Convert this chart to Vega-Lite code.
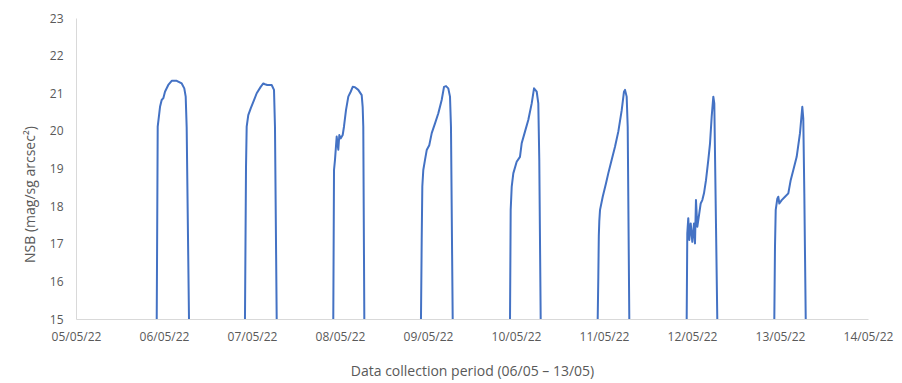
{
  "$schema": "https://vega.github.io/schema/vega-lite/v6.json",
  "width": 792,
  "height": 301,
  "autosize": {"type": "none"},
  "padding": {"left": 76, "top": 18, "right": 34, "bottom": 64},
  "background": "white",
  "config": {"view": {"stroke": null}, "font": "Open Sans"},
  "data": {"values": [
    {"n":1,"t":"2022-05-05T22:01","v":15},
    {"n":1,"t":"2022-05-05T22:17","v":20.11},
    {"n":1,"t":"2022-05-05T22:55","v":20.64},
    {"n":1,"t":"2022-05-05T23:22","v":20.82},
    {"n":1,"t":"2022-05-05T23:49","v":20.87},
    {"n":1,"t":"2022-05-06T00:16","v":21.04},
    {"n":1,"t":"2022-05-06T01:10","v":21.22},
    {"n":1,"t":"2022-05-06T02:06","v":21.33},
    {"n":1,"t":"2022-05-06T03:28","v":21.33},
    {"n":1,"t":"2022-05-06T04:50","v":21.26},
    {"n":1,"t":"2022-05-06T05:32","v":21.13},
    {"n":1,"t":"2022-05-06T05:55","v":20.91},
    {"n":1,"t":"2022-05-06T06:11","v":20.1},
    {"n":1,"t":"2022-05-06T06:49","v":15},
    {"n":2,"t":"2022-05-06T22:05","v":15},
    {"n":2,"t":"2022-05-06T22:22","v":19.05},
    {"n":2,"t":"2022-05-06T22:33","v":20.11},
    {"n":2,"t":"2022-05-06T22:59","v":20.42},
    {"n":2,"t":"2022-05-06T23:39","v":20.6},
    {"n":2,"t":"2022-05-07T00:33","v":20.82},
    {"n":2,"t":"2022-05-07T01:17","v":21.0},
    {"n":2,"t":"2022-05-07T02:22","v":21.17},
    {"n":2,"t":"2022-05-07T03:05","v":21.26},
    {"n":2,"t":"2022-05-07T03:33","v":21.24},
    {"n":2,"t":"2022-05-07T04:10","v":21.22},
    {"n":2,"t":"2022-05-07T05:22","v":21.22},
    {"n":2,"t":"2022-05-07T06:00","v":21.09},
    {"n":2,"t":"2022-05-07T06:16","v":20.11},
    {"n":2,"t":"2022-05-07T06:44","v":15},
    {"n":3,"t":"2022-05-07T22:10","v":15},
    {"n":3,"t":"2022-05-07T22:22","v":18.96},
    {"n":3,"t":"2022-05-07T22:38","v":19.23},
    {"n":3,"t":"2022-05-07T23:06","v":19.85},
    {"n":3,"t":"2022-05-07T23:32","v":19.5},
    {"n":3,"t":"2022-05-07T23:49","v":19.89},
    {"n":3,"t":"2022-05-08T00:11","v":19.8},
    {"n":3,"t":"2022-05-08T00:44","v":19.89},
    {"n":3,"t":"2022-05-08T01:05","v":20.11},
    {"n":3,"t":"2022-05-08T01:38","v":20.55},
    {"n":3,"t":"2022-05-08T02:16","v":20.91},
    {"n":3,"t":"2022-05-08T02:55","v":21.04},
    {"n":3,"t":"2022-05-08T03:28","v":21.17},
    {"n":3,"t":"2022-05-08T04:05","v":21.16},
    {"n":3,"t":"2022-05-08T04:59","v":21.09},
    {"n":3,"t":"2022-05-08T05:55","v":20.95},
    {"n":3,"t":"2022-05-08T06:11","v":20.64},
    {"n":3,"t":"2022-05-08T06:21","v":20.11},
    {"n":3,"t":"2022-05-08T06:38","v":15},
    {"n":4,"t":"2022-05-08T22:05","v":15},
    {"n":4,"t":"2022-05-08T22:17","v":17.1},
    {"n":4,"t":"2022-05-08T22:27","v":18.52},
    {"n":4,"t":"2022-05-08T22:43","v":18.96},
    {"n":4,"t":"2022-05-08T23:11","v":19.23},
    {"n":4,"t":"2022-05-08T23:39","v":19.49},
    {"n":4,"t":"2022-05-09T00:21","v":19.62},
    {"n":4,"t":"2022-05-09T01:01","v":19.94},
    {"n":4,"t":"2022-05-09T01:55","v":20.2},
    {"n":4,"t":"2022-05-09T02:49","v":20.47},
    {"n":4,"t":"2022-05-09T03:44","v":20.82},
    {"n":4,"t":"2022-05-09T04:22","v":21.17},
    {"n":4,"t":"2022-05-09T04:55","v":21.19},
    {"n":4,"t":"2022-05-09T05:32","v":21.13},
    {"n":4,"t":"2022-05-09T06:00","v":20.91},
    {"n":4,"t":"2022-05-09T06:16","v":20.11},
    {"n":4,"t":"2022-05-09T06:44","v":15},
    {"n":5,"t":"2022-05-09T22:22","v":15},
    {"n":5,"t":"2022-05-09T22:33","v":17.9},
    {"n":5,"t":"2022-05-09T22:50","v":18.52},
    {"n":5,"t":"2022-05-09T23:16","v":18.87},
    {"n":5,"t":"2022-05-10T00:11","v":19.18},
    {"n":5,"t":"2022-05-10T01:05","v":19.31},
    {"n":5,"t":"2022-05-10T01:33","v":19.67},
    {"n":5,"t":"2022-05-10T02:27","v":19.98},
    {"n":5,"t":"2022-05-10T03:21","v":20.29},
    {"n":5,"t":"2022-05-10T04:17","v":20.73},
    {"n":5,"t":"2022-05-10T04:55","v":21.13},
    {"n":5,"t":"2022-05-10T05:39","v":21.04},
    {"n":5,"t":"2022-05-10T06:05","v":20.73},
    {"n":5,"t":"2022-05-10T06:21","v":19.23},
    {"n":5,"t":"2022-05-10T06:44","v":15},
    {"n":6,"t":"2022-05-10T22:17","v":15},
    {"n":6,"t":"2022-05-10T22:27","v":16.12},
    {"n":6,"t":"2022-05-10T22:35","v":17.2},
    {"n":6,"t":"2022-05-10T22:43","v":17.6},
    {"n":6,"t":"2022-05-10T22:55","v":17.9},
    {"n":6,"t":"2022-05-10T23:39","v":18.25},
    {"n":6,"t":"2022-05-11T00:33","v":18.61},
    {"n":6,"t":"2022-05-11T01:10","v":18.87},
    {"n":6,"t":"2022-05-11T02:06","v":19.23},
    {"n":6,"t":"2022-05-11T03:00","v":19.58},
    {"n":6,"t":"2022-05-11T03:54","v":19.98},
    {"n":6,"t":"2022-05-11T04:50","v":20.55},
    {"n":6,"t":"2022-05-11T05:27","v":21.04},
    {"n":6,"t":"2022-05-11T05:44","v":21.09},
    {"n":6,"t":"2022-05-11T06:11","v":20.91},
    {"n":6,"t":"2022-05-11T06:28","v":20.11},
    {"n":6,"t":"2022-05-11T06:54","v":15},
    {"n":7,"t":"2022-05-11T22:33","v":15},
    {"n":7,"t":"2022-05-11T22:43","v":17.28},
    {"n":7,"t":"2022-05-11T22:59","v":17.68},
    {"n":7,"t":"2022-05-11T23:16","v":17.1},
    {"n":7,"t":"2022-05-11T23:39","v":17.54},
    {"n":7,"t":"2022-05-12T00:05","v":17.05},
    {"n":7,"t":"2022-05-12T00:33","v":17.54},
    {"n":7,"t":"2022-05-12T00:49","v":17.01},
    {"n":7,"t":"2022-05-12T01:05","v":18.16},
    {"n":7,"t":"2022-05-12T01:27","v":17.45},
    {"n":7,"t":"2022-05-12T01:59","v":17.81},
    {"n":7,"t":"2022-05-12T02:22","v":18.07},
    {"n":7,"t":"2022-05-12T02:49","v":18.16},
    {"n":7,"t":"2022-05-12T03:16","v":18.34},
    {"n":7,"t":"2022-05-12T03:49","v":18.69},
    {"n":7,"t":"2022-05-12T04:27","v":19.23},
    {"n":7,"t":"2022-05-12T04:55","v":19.67},
    {"n":7,"t":"2022-05-12T05:22","v":20.38},
    {"n":7,"t":"2022-05-12T05:49","v":20.91},
    {"n":7,"t":"2022-05-12T06:05","v":20.73},
    {"n":7,"t":"2022-05-12T06:33","v":17.45},
    {"n":7,"t":"2022-05-12T06:54","v":15},
    {"n":8,"t":"2022-05-12T22:27","v":15},
    {"n":8,"t":"2022-05-12T22:38","v":16.92},
    {"n":8,"t":"2022-05-12T22:50","v":17.9},
    {"n":8,"t":"2022-05-12T23:16","v":18.2},
    {"n":8,"t":"2022-05-12T23:32","v":18.25},
    {"n":8,"t":"2022-05-12T23:49","v":18.07},
    {"n":8,"t":"2022-05-13T00:28","v":18.16},
    {"n":8,"t":"2022-05-13T01:22","v":18.25},
    {"n":8,"t":"2022-05-13T02:16","v":18.34},
    {"n":8,"t":"2022-05-13T02:55","v":18.69},
    {"n":8,"t":"2022-05-13T03:38","v":18.96},
    {"n":8,"t":"2022-05-13T04:33","v":19.31},
    {"n":8,"t":"2022-05-13T05:27","v":19.94},
    {"n":8,"t":"2022-05-13T06:05","v":20.64},
    {"n":8,"t":"2022-05-13T06:21","v":20.33},
    {"n":8,"t":"2022-05-13T06:38","v":18.34},
    {"n":8,"t":"2022-05-13T07:01","v":15}
  ]},
  "mark": {"type": "line", "color": "#4472C4", "strokeWidth": 2, "strokeJoin": "round", "strokeCap": "butt"},
  "encoding": {
    "detail": {"field": "n", "type": "nominal"},
    "x": {
      "field": "t",
      "type": "temporal",
      "scale": {"domain": [{"year": 2022, "month": 5, "date": 5}, {"year": 2022, "month": 5, "date": 14}]},
      "axis": {
        "title": "Data collection period (06/05 – 13/05)",
        "format": "%d/%m/%y",
        "values": [
          {"year": 2022, "month": 5, "date": 5},
          {"year": 2022, "month": 5, "date": 6},
          {"year": 2022, "month": 5, "date": 7},
          {"year": 2022, "month": 5, "date": 8},
          {"year": 2022, "month": 5, "date": 9},
          {"year": 2022, "month": 5, "date": 10},
          {"year": 2022, "month": 5, "date": 11},
          {"year": 2022, "month": 5, "date": 12},
          {"year": 2022, "month": 5, "date": 13},
          {"year": 2022, "month": 5, "date": 14}
        ],
        "grid": false,
        "ticks": false,
        "domainColor": "#d9d9d9",
        "domainWidth": 1,
        "labelColor": "#595959",
        "labelFontSize": 12,
        "labelPadding": 12,
        "labelFlush": false,
        "labelOverlap": false,
        "titleColor": "#595959",
        "titleFontSize": 14,
        "titleFontWeight": "normal",
        "titlePadding": 22
      }
    },
    "y": {
      "field": "v",
      "type": "quantitative",
      "scale": {"domain": [15, 23], "nice": false, "zero": false},
      "axis": {
        "title": "NSB (mag/sg arcsec²)",
        "values": [15, 16, 17, 18, 19, 20, 21, 22, 23],
        "grid": false,
        "ticks": false,
        "domainColor": "#d9d9d9",
        "domainWidth": 1,
        "labelColor": "#595959",
        "labelFontSize": 12,
        "labelPadding": 13,
        "labelFlush": false,
        "titleColor": "#595959",
        "titleFontSize": 14,
        "titleFontWeight": "normal",
        "titleAngle": -90,
        "titleX": -46,
        "titleY": 176,
        "titleAlign": "center",
        "titleBaseline": "middle"
      }
    }
  }
}
